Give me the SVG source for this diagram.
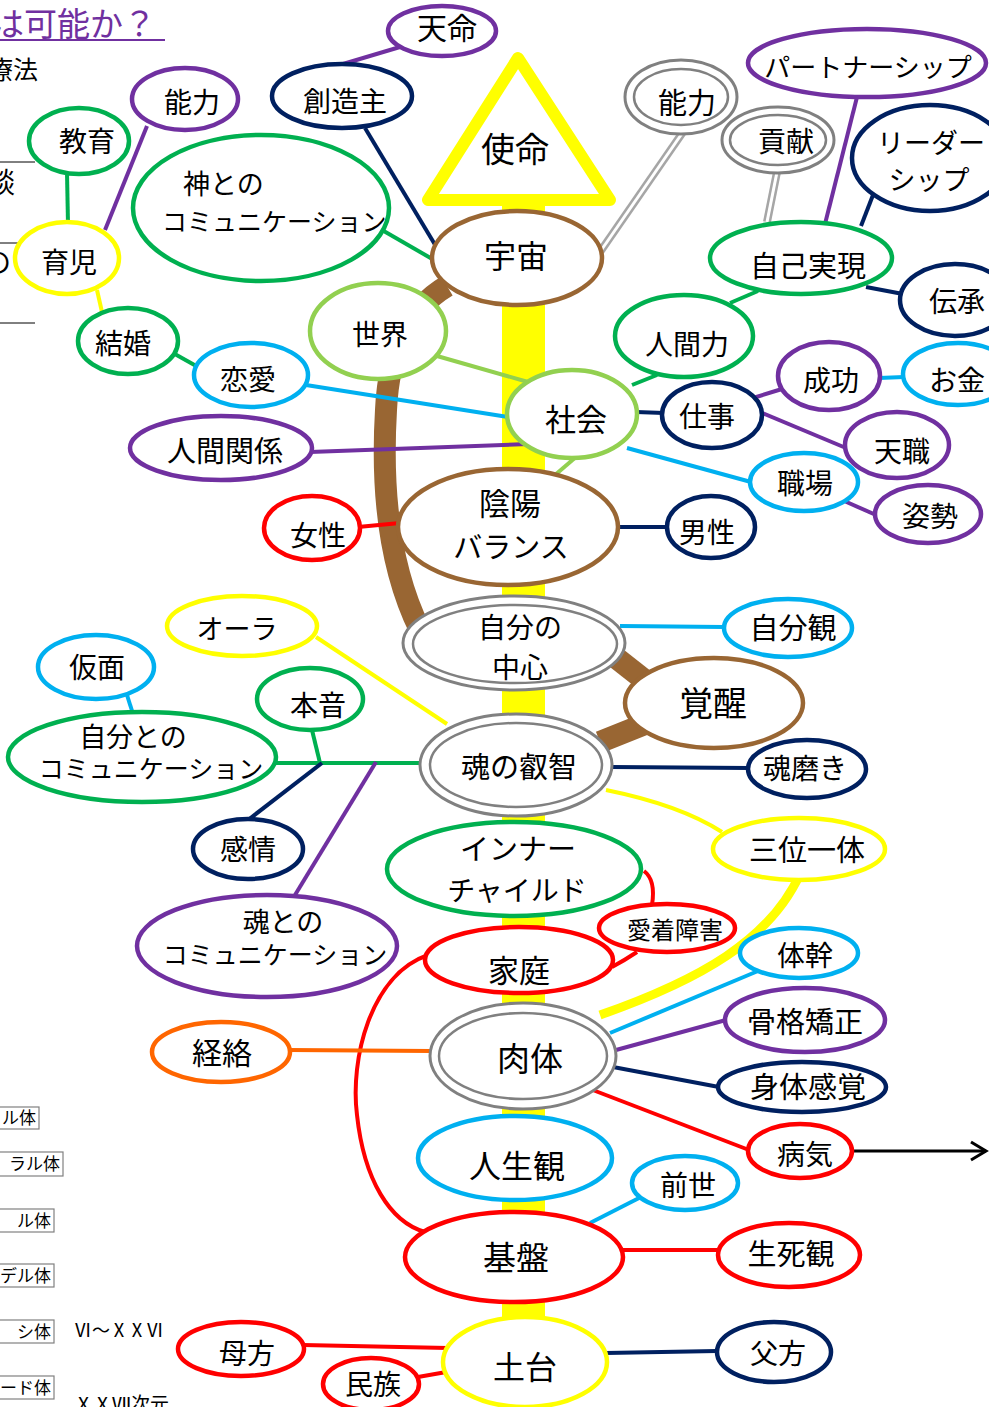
<svg xmlns="http://www.w3.org/2000/svg" width="989" height="1407" viewBox="0 0 989 1407">
<defs>
<style>
.n{fill:#fff;stroke-width:4.5}
.t{font-family:"Noto Sans CJK JP","Noto Sans",sans-serif;fill:#000;text-anchor:middle}
.ts{font-family:"Noto Sans CJK JP","Noto Sans",sans-serif;fill:#000}
.c{fill:none;stroke-width:4}
.g{stroke:#00B050}.p{stroke:#7030A0}.nv{stroke:#002060}.y{stroke:#FFFF00}.br{stroke:#996633}
.lg{stroke:#92D050}.cy{stroke:#00B0F0}.r{stroke:#FF0000}.o{stroke:#FF6600}.k{stroke:#000}
.go{fill:#fff;stroke:#808080;stroke-width:3}.gi{fill:none;stroke:#808080;stroke-width:2.5}
.dbl{fill:none;stroke:#A6A6A6;stroke-width:8}.dbw{fill:none;stroke:#fff;stroke-width:3}
.box{fill:#fff;stroke:#808080;stroke-width:1.2}
</style>
<marker id="arr" markerUnits="userSpaceOnUse" markerWidth="22" markerHeight="22" refX="18" refY="11" orient="auto">
<path d="M3,2 L18,11 L3,20" fill="none" stroke="#000" stroke-width="3"/>
</marker>
</defs>
<rect width="989" height="1407" fill="#fff"/>

<g id="side">
<text class="ts" x="-9" y="36" font-size="33" fill="#7030A0" style="fill:#7030A0">は可能か？</text>
<line x1="0" y1="40" x2="165" y2="40" stroke="#7030A0" stroke-width="2"/>
<text class="ts" x="-12" y="79" font-size="25">療法</text>
<line x1="0" y1="162" x2="35" y2="162" stroke="#000" stroke-width="1"/>
<text class="ts" x="-13" y="193" font-size="28">談</text>
<line x1="0" y1="243" x2="35" y2="243" stroke="#000" stroke-width="1"/>
<text class="ts" x="-17" y="273" font-size="28">の</text>
<line x1="0" y1="323" x2="35" y2="323" stroke="#000" stroke-width="1"/>
<rect class="box" x="-60" y="1107" width="99" height="22"/>
<text class="ts" x="36" y="1124" font-size="17" text-anchor="end" style="text-anchor:end">ル体</text>
<rect class="box" x="-60" y="1152" width="123" height="24"/>
<text class="ts" x="60" y="1170" font-size="17" style="text-anchor:end">ラル体</text>
<rect class="box" x="-60" y="1209" width="114" height="23"/>
<text class="ts" x="51" y="1227" font-size="17" style="text-anchor:end">ル体</text>
<rect class="box" x="-60" y="1264" width="114" height="23"/>
<text class="ts" x="51" y="1282" font-size="17" style="text-anchor:end">デル体</text>
<rect class="box" x="-60" y="1320" width="114" height="23"/>
<text class="ts" x="51" y="1338" font-size="17" style="text-anchor:end">シ体</text>
<rect class="box" x="-60" y="1376" width="114" height="23"/>
<text class="ts" x="51" y="1394" font-size="17" style="text-anchor:end">ード体</text>
<text class="ts" x="74" y="1337" font-size="18">Ⅵ～ⅩⅩⅥ</text>
<text class="ts" x="74" y="1411" font-size="19">ⅩⅩⅦ次元</text>
</g>

<g id="connectors">
<rect x="502" y="200" width="43" height="1207" fill="#FFFF00"/>
<path d="M447 286 Q390 320 386 410 Q378 545 420 630" fill="none" stroke="#996633" stroke-width="22"/>
<line x1="610" y1="653" x2="652" y2="686" stroke="#996633" stroke-width="22"/>
<line x1="600" y1="742" x2="650" y2="722" stroke="#996633" stroke-width="22"/>
<line class="c p" x1="343" y1="64" x2="400" y2="47"/>
<line class="c nv" x1="365" y1="128" x2="437" y2="248"/>
<line class="c g" x1="382" y1="230" x2="434" y2="260"/>
<line class="dbl" x1="683" y1="132" x2="600" y2="252"/><line class="dbw" x1="683" y1="132" x2="600" y2="252"/>
<line class="dbl" x1="777" y1="172" x2="767" y2="222"/><line class="dbw" x1="777" y1="172" x2="767" y2="222"/>
<line class="c p" x1="857" y1="97" x2="825" y2="224"/>
<line class="c nv" x1="873" y1="195" x2="861" y2="226"/>
<line class="c nv" x1="866" y1="287" x2="903" y2="294"/>
<line class="c g" x1="730" y1="303" x2="758" y2="291"/>
<line class="c g" x1="632" y1="385" x2="657" y2="375"/>
<line class="c nv" x1="636" y1="412" x2="664" y2="413"/>
<line class="c p" x1="753" y1="398" x2="782" y2="389"/>
<line class="c cy" x1="879" y1="378" x2="904" y2="377"/>
<line class="c p" x1="760" y1="412" x2="846" y2="448"/>
<line class="c cy" x1="627" y1="448" x2="751" y2="482"/>
<line class="c p" x1="842" y1="500" x2="876" y2="515"/>
<line class="c nv" x1="616" y1="527" x2="668" y2="527"/>
<line class="c lg" x1="576" y1="457" x2="555" y2="475"/>
<line class="c lg" x1="437" y1="356" x2="528" y2="382"/>
<line class="c cy" x1="306" y1="385" x2="508" y2="417"/>
<line class="c p" x1="310" y1="452" x2="528" y2="444"/>
<line class="c r" x1="358" y1="527" x2="400" y2="523"/>
<line class="c g" x1="173" y1="353" x2="198" y2="367"/>
<line class="c g" x1="67" y1="173" x2="68" y2="224"/>
<line class="c p" x1="147" y1="126" x2="105" y2="230"/>
<line class="c y" x1="97" y1="290" x2="104" y2="321"/>
<line class="c cy" x1="620" y1="626" x2="724" y2="627"/>
<line class="c nv" x1="611" y1="767" x2="749" y2="768"/>
<path class="c y" d="M606 790 Q680 805 722 832" stroke-width="6"/>
<path d="M800 874 C770 940 700 980 600 1015" fill="none" stroke="#FFFF00" stroke-width="9"/>
<line class="c y" x1="316" y1="637" x2="447" y2="724"/>
<line class="c cy" x1="127" y1="695" x2="133" y2="714"/>
<line class="c g" x1="276" y1="763" x2="422" y2="763"/>
<line class="c g" x1="312" y1="730" x2="320" y2="763"/>
<line class="c nv" x1="322" y1="763" x2="248" y2="820"/>
<line class="c p" x1="376" y1="762" x2="295" y2="895"/>
<path class="c r" d="M644 871 Q656 880 652 905" stroke-width="3"/>
<path class="c r" d="M612 967 Q625 960 637 952" stroke-width="3"/>
<path class="c r" d="M428 955 C370 975 350 1060 357 1115 C364 1180 390 1222 425 1232"/>
<line class="c o" x1="289" y1="1050" x2="431" y2="1051"/>
<line class="c cy" x1="610" y1="1033" x2="758" y2="971"/>
<line class="c p" x1="616" y1="1050" x2="726" y2="1020"/>
<line class="c nv" x1="613" y1="1067" x2="719" y2="1087"/>
<line class="c r" x1="585" y1="1087" x2="749" y2="1150"/>
<line x1="851" y1="1151" x2="986" y2="1151" stroke="#000" stroke-width="3" marker-end="url(#arr)"/>
<line class="c cy" x1="590" y1="1223" x2="641" y2="1197"/>
<line class="c r" x1="621" y1="1250" x2="718" y2="1250"/>
<line class="c nv" x1="606" y1="1353" x2="717" y2="1351"/>
<line class="c r" x1="303" y1="1345" x2="448" y2="1348"/>
<line class="c r" x1="418" y1="1377" x2="452" y2="1371"/>
</g>

<g id="shimei"><polygon points="518,58 428,200 610,200" fill="#fff" stroke="#FFFF00" stroke-width="12" stroke-linejoin="round"/><text class="t" x="515" y="162" font-size="34">使命</text></g>
<g id="tenmei"><ellipse class="n p" cx="442" cy="31" rx="54" ry="25"/><text class="t" x="447" y="39" font-size="30">天命</text></g>
<g id="souzoushu"><ellipse class="n nv" cx="342" cy="96" rx="70" ry="32"/><text class="t" x="345" y="112" font-size="28">創造主</text></g>
<g id="kamitono"><ellipse class="n g" cx="261" cy="208" rx="128" ry="73"/><text class="ts" x="183" y="194" font-size="27">神との</text><text class="ts" x="162" y="231" font-size="25">コミュニケーション</text></g>
<g id="uchu"><ellipse class="n br" cx="517" cy="258" rx="85" ry="47"/><text class="t" x="516" y="268" font-size="32">宇宙</text></g>
<g id="nouryoku2"><ellipse class="go" cx="681" cy="97" rx="56" ry="37"/><ellipse class="gi" cx="681" cy="97" rx="47" ry="28"/><text class="t" x="687" y="114" font-size="29">能力</text></g>
<g id="kouken"><ellipse class="go" cx="778" cy="140" rx="56" ry="33"/><ellipse class="gi" cx="778" cy="140" rx="48" ry="25"/><text class="t" x="786" y="152" font-size="28">貢献</text></g>
<g id="partnership"><ellipse class="n p" cx="867" cy="63" rx="119" ry="34"/><text class="t" x="868" y="77" font-size="26">パートナーシップ</text></g>
<g id="leadership"><ellipse class="n nv" cx="930" cy="158" rx="78" ry="53"/><text class="t" x="931" y="153" font-size="27">リーダー</text><text class="t" x="929" y="190" font-size="27">シップ</text></g>
<g id="jikojitsugen"><ellipse class="n g" cx="801" cy="258" rx="91" ry="36"/><text class="t" x="808" y="277" font-size="29">自己実現</text></g>
<g id="denshou"><ellipse class="n nv" cx="955" cy="300" rx="55" ry="36"/><text class="t" x="957" y="312" font-size="28">伝承</text></g>
<g id="ningenryoku"><ellipse class="n g" cx="684" cy="336" rx="69" ry="41"/><text class="t" x="687" y="355" font-size="28">人間力</text></g>
<g id="shakai"><ellipse class="n lg" cx="572" cy="414" rx="65" ry="44"/><text class="t" x="576" y="431" font-size="31">社会</text></g>
<g id="shigoto"><ellipse class="n nv" cx="712" cy="415" rx="50" ry="33"/><text class="t" x="707" y="427" font-size="28">仕事</text></g>
<g id="seikou"><ellipse class="n p" cx="829" cy="376" rx="51" ry="34"/><text class="t" x="831" y="391" font-size="28">成功</text></g>
<g id="okane"><ellipse class="n cy" cx="958" cy="374" rx="55" ry="31"/><text class="t" x="957" y="391" font-size="28">お金</text></g>
<g id="tenshoku"><ellipse class="n p" cx="897" cy="445" rx="52" ry="33"/><text class="t" x="902" y="462" font-size="28">天職</text></g>
<g id="shokuba"><ellipse class="n cy" cx="804" cy="482" rx="54" ry="29"/><text class="t" x="805" y="494" font-size="28">職場</text></g>
<g id="shisei"><ellipse class="n p" cx="928" cy="514" rx="53" ry="29"/><text class="t" x="930" y="527" font-size="28">姿勢</text></g>
<g id="dansei"><ellipse class="n nv" cx="711" cy="527" rx="44" ry="31"/><text class="t" x="707" y="543" font-size="28">男性</text></g>
<g id="inyou"><ellipse class="n br" cx="508" cy="527" rx="110" ry="58"/><text class="t" x="510" y="515" font-size="31">陰陽</text><text class="t" x="511" y="558" font-size="29">バランス</text></g>
<g id="sekai"><ellipse class="n lg" cx="378" cy="331" rx="68" ry="48"/><text class="t" x="380" y="345" font-size="28">世界</text></g>
<g id="renai"><ellipse class="n cy" cx="251" cy="375" rx="57" ry="32"/><text class="t" x="248" y="390" font-size="28">恋愛</text></g>
<g id="ningenkankei"><ellipse class="n p" cx="221" cy="448" rx="91" ry="32"/><text class="t" x="225" y="462" font-size="29">人間関係</text></g>
<g id="josei"><ellipse class="n r" cx="312" cy="528" rx="48" ry="32"/><text class="t" x="318" y="546" font-size="28">女性</text></g>
<g id="kekkon"><ellipse class="n g" cx="128" cy="341" rx="50" ry="33"/><text class="t" x="123" y="354" font-size="28">結婚</text></g>
<g id="ikuji"><ellipse class="n y" cx="67" cy="258" rx="52" ry="36"/><text class="t" x="69" y="273" font-size="28">育児</text></g>
<g id="kyouiku"><ellipse class="n g" cx="79" cy="141" rx="50" ry="33"/><text class="t" x="87" y="152" font-size="28">教育</text></g>
<g id="nouryoku1"><ellipse class="n p" cx="185" cy="99" rx="53" ry="31"/><text class="t" x="192" y="113" font-size="28">能力</text></g>
<g id="jibunnochushin"><ellipse class="go" cx="514" cy="643" rx="111" ry="47"/><ellipse class="gi" cx="515" cy="644" rx="102" ry="39"/><text class="t" x="520" y="638" font-size="28">自分の</text><text class="t" x="520" y="678" font-size="28">中心</text></g>
<g id="kakusei"><ellipse class="n br" cx="714" cy="703" rx="89" ry="45"/><text class="t" x="713" y="716" font-size="34">覚醒</text></g>
<g id="jibunkan"><ellipse class="n cy" cx="788" cy="628" rx="64" ry="29"/><text class="t" x="793" y="639" font-size="29">自分観</text></g>
<g id="tamashiinoeichi"><ellipse class="go" cx="516" cy="765" rx="96" ry="51"/><ellipse class="gi" cx="516" cy="765" rx="86" ry="42"/><text class="t" x="519" y="778" font-size="29">魂の叡智</text></g>
<g id="tamashiimigaki"><ellipse class="n nv" cx="807" cy="769" rx="59" ry="29"/><text class="t" x="805" y="779" font-size="28">魂磨き</text></g>
<g id="sanmiittai"><ellipse class="n y" cx="799" cy="849" rx="86" ry="31"/><text class="t" x="807" y="861" font-size="29">三位一体</text></g>
<g id="aura"><ellipse class="n y" cx="242" cy="626" rx="75" ry="30"/><text class="t" x="237" y="639" font-size="27">オーラ</text></g>
<g id="kamen"><ellipse class="n cy" cx="96" cy="667" rx="58" ry="32"/><text class="t" x="97" y="678" font-size="28">仮面</text></g>
<g id="jibuntono"><ellipse class="n g" cx="142" cy="757" rx="134" ry="45"/><text class="t" x="133" y="747" font-size="27">自分との</text><text class="t" x="151" y="778" font-size="25">コミュニケーション</text></g>
<g id="honne"><ellipse class="n g" cx="310" cy="699" rx="53" ry="31"/><text class="t" x="318" y="716" font-size="28">本音</text></g>
<g id="kanjou"><ellipse class="n nv" cx="248" cy="849" rx="55" ry="30"/><text class="t" x="248" y="860" font-size="28">感情</text></g>
<g id="tamashiitono"><ellipse class="n p" cx="267" cy="946" rx="130" ry="51"/><text class="t" x="283" y="932" font-size="27">魂との</text><text class="t" x="275" y="964" font-size="25">コミュニケーション</text></g>
<g id="innerchild"><ellipse class="n g" cx="514" cy="869" rx="127" ry="47"/><text class="t" x="518" y="860" font-size="29">インナー</text><text class="t" x="517" y="901" font-size="28">チャイルド</text></g>
<g id="aichaku"><ellipse class="n r" cx="667" cy="928" rx="68" ry="24"/><text class="t" x="675" y="939" font-size="24">愛着障害</text></g>
<g id="katei"><ellipse class="n r" cx="519" cy="960" rx="94" ry="33"/><text class="t" x="519" y="982" font-size="31">家庭</text></g>
<g id="nikutai"><ellipse class="go" cx="523" cy="1056" rx="93" ry="53"/><ellipse class="gi" cx="523" cy="1056" rx="84" ry="43"/><text class="t" x="530" y="1071" font-size="33">肉体</text></g>
<g id="keiraku"><ellipse class="n o" cx="221" cy="1052" rx="69" ry="30"/><text class="t" x="222" y="1064" font-size="30">経絡</text></g>
<g id="taikan"><ellipse class="n cy" cx="799" cy="953" rx="59" ry="25"/><text class="t" x="805" y="966" font-size="28">体幹</text></g>
<g id="kokkaku"><ellipse class="n p" cx="805" cy="1020" rx="80" ry="32"/><text class="t" x="805" y="1033" font-size="29">骨格矯正</text></g>
<g id="shintai"><ellipse class="n nv" cx="802" cy="1087" rx="84" ry="25"/><text class="t" x="808" y="1098" font-size="29">身体感覚</text></g>
<g id="byouki"><ellipse class="n r" cx="800" cy="1151" rx="52" ry="27"/><text class="t" x="805" y="1165" font-size="28">病気</text></g>
<g id="jinseikan"><ellipse class="n cy" cx="515" cy="1158" rx="97" ry="42"/><text class="t" x="517" y="1178" font-size="32">人生観</text></g>
<g id="zense"><ellipse class="n cy" cx="685" cy="1183" rx="53" ry="27"/><text class="t" x="688" y="1196" font-size="28">前世</text></g>
<g id="kiban"><ellipse class="n r" cx="514" cy="1257" rx="109" ry="45"/><text class="t" x="516" y="1270" font-size="33">基盤</text></g>
<g id="shishikan"><ellipse class="n r" cx="789" cy="1255" rx="71" ry="32"/><text class="t" x="791" y="1265" font-size="29">生死観</text></g>
<g id="dodai"><ellipse class="n y" cx="525" cy="1362" rx="82" ry="45"/><text class="t" x="525" y="1379" font-size="32">土台</text></g>
<g id="fukata"><ellipse class="n nv" cx="774" cy="1352" rx="57" ry="30"/><text class="t" x="778" y="1364" font-size="28">父方</text></g>
<g id="bokata"><ellipse class="n r" cx="241" cy="1349" rx="63" ry="27"/><text class="t" x="247" y="1364" font-size="28">母方</text></g>
<g id="minzoku"><ellipse class="n r" cx="371" cy="1384" rx="48" ry="26"/><text class="t" x="373" y="1395" font-size="28">民族</text></g>
</svg>
